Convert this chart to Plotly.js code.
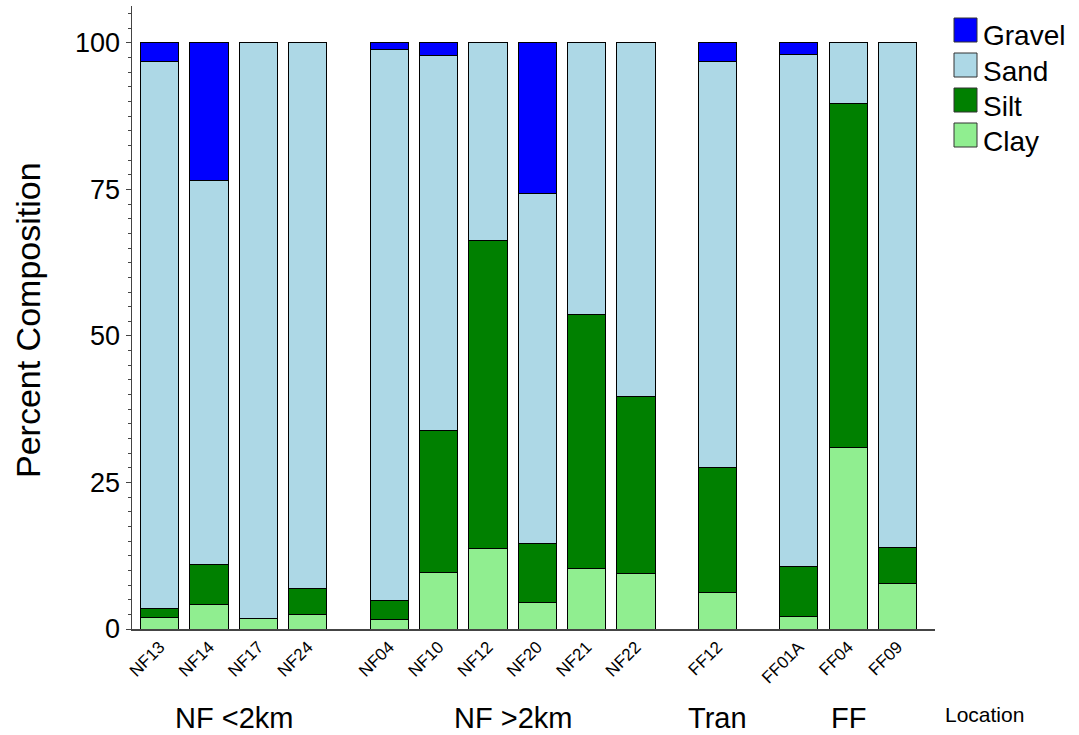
<!DOCTYPE html>
<html>
<head>
<meta charset="utf-8">
<script src="https://cdn.plot.ly/plotly-3.0.1.min.js"></script>
<style>
  html, body { margin: 0; padding: 0; background: #ffffff; }
  #chart { width: 1079px; height: 735px; }
</style>
</head>
<body>
<div id="chart"></div>
<script>
// Sampling sites, in plotting order, and the zone each one belongs to
const sites = ['NF13', 'NF14', 'NF17', 'NF24', 'NF04', 'NF10', 'NF12', 'NF20', 'NF21', 'NF22', 'FF12', 'FF01A', 'FF04', 'FF09'];
const zones = ['NF <2km', 'NF <2km', 'NF <2km', 'NF <2km',
               'NF >2km', 'NF >2km', 'NF >2km', 'NF >2km', 'NF >2km', 'NF >2km',
               'Tran', 'FF', 'FF', 'FF'];

// Grain-size fractions (% of sample)
const clay   = [1.9, 4.1, 1.8, 2.4, 1.6,  9.6, 13.7,  4.5, 10.4,  9.5,  6.2,  2.2, 30.9,  7.7];
const silt   = [1.6, 6.9, 0.0, 4.5, 3.2, 24.3, 52.6, 10.1, 43.3, 30.1, 21.3,  8.5, 58.8,  6.2];
const sand   = [93.3, 65.5, 98.2, 93.1, 94.0, 64.0, 33.7, 59.7, 46.3, 60.4, 69.3, 87.4, 10.3, 86.1];
const gravel = [3.2, 23.5, 0.0, 0.0, 1.2,  2.1,  0.0, 25.7,  0.0,  0.0,  3.2,  1.9,  0.0,  0.0];

const fractionNames = ['Gravel', 'Sand', 'Silt', 'Clay'];
const fractionColors = { Gravel: '#0000ff', Sand: '#add8e6', Silt: '#008000', Clay: '#90ee90' };
const fractionValues = { Gravel: gravel, Sand: sand, Silt: silt, Clay: clay };

// Bars sit one unit apart, with a wider gap whenever the zone changes
const ZONE_GAP = 0.65;
const xPos = [];
let zoneIndex = 0;
sites.forEach((s, i) => {
  if (i > 0 && zones[i] !== zones[i - 1]) zoneIndex++;
  xPos.push(i + zoneIndex * ZONE_GAP);
});

// Unique zones with their centre positions for the group labels
const zoneList = [];
zones.forEach((z, i) => {
  let entry = zoneList.find(e => e.name === z);
  if (!entry) { entry = { name: z, xs: [] }; zoneList.push(entry); }
  entry.xs.push(xPos[i]);
});

const FONT = 'Arial, "Liberation Sans", sans-serif';

// Stack from the bottom: Clay, Silt, Sand, Gravel
const traces = fractionNames.slice().reverse().map(name => ({
  type: 'bar',
  name: name,
  x: xPos,
  y: fractionValues[name],
  width: 0.776,
  marker: { color: fractionColors[name], line: { color: '#000000', width: 1 } },
  showlegend: false,
  hoverinfo: 'name+y'
}));

// Plot-area geometry (paper coordinates)
const W = 1079, H = 735;
const M = { l: 132, r: 144, t: 6, b: 106 };
const plotW = W - M.l - M.r, plotH = H - M.t - M.b;
const px2paperX = px => (px - M.l) / plotW;
const py2paperY = py => (H - M.b - py) / plotH;

const shapes = [];
const annotations = [];

// Legend drawn as large square swatches, top to bottom
fractionNames.forEach((name, k) => {
  const top = 18 + 35 * k;
  shapes.push({
    type: 'rect', xref: 'paper', yref: 'paper',
    x0: px2paperX(954), x1: px2paperX(977),
    y0: py2paperY(top + 24), y1: py2paperY(top),
    fillcolor: fractionColors[name],
    line: { color: '#333333', width: 1 }
  });
  annotations.push({
    xref: 'paper', yref: 'paper',
    x: px2paperX(981), y: py2paperY(top + 18),
    xanchor: 'left', yanchor: 'middle',
    text: name, showarrow: false,
    font: { family: FONT, size: 28, color: '#000000' }
  });
});

// Zone labels beneath the site names
zoneList.forEach(z => {
  const cx = z.xs.reduce((a, b) => a + b, 0) / z.xs.length;
  annotations.push({
    xref: 'x', yref: 'paper',
    x: cx, y: py2paperY(718),
    xanchor: 'center', yanchor: 'middle',
    text: z.name, showarrow: false,
    font: { family: FONT, size: 29, color: '#000000' }
  });
});

// Axis captions
annotations.push({
  xref: 'paper', yref: 'paper',
  x: px2paperX(984), y: py2paperY(714),
  xanchor: 'center', yanchor: 'middle',
  text: 'Location', showarrow: false,
  font: { family: FONT, size: 21, color: '#000000' }
});
annotations.push({
  xref: 'paper', yref: 'paper',
  x: px2paperX(28), y: py2paperY(320),
  xanchor: 'center', yanchor: 'middle', textangle: -90,
  text: 'Percent Composition', showarrow: false,
  font: { family: FONT, size: 34, color: '#000000' }
});

const layout = {
  width: W, height: H,
  margin: M,
  paper_bgcolor: '#ffffff',
  plot_bgcolor: '#ffffff',
  barmode: 'stack',
  showlegend: false,
  font: { family: FONT, color: '#000000' },
  xaxis: {
    range: [-0.563, 15.71],
    tickmode: 'array',
    tickvals: xPos,
    ticktext: sites,
    tickangle: -45,
    ticks: '',
    tickfont: { family: FONT, size: 17, color: '#000000' },
    showgrid: false, zeroline: false,
    showline: true, linecolor: '#444444', linewidth: 1.5,
    fixedrange: true
  },
  yaxis: {
    range: [0, 106.3],
    tickmode: 'array',
    tickvals: [0, 25, 50, 75, 100],
    ticks: 'outside', ticklen: 5, tickwidth: 1, tickcolor: '#444444',
    minor: { dtick: 2.5, ticks: 'outside', ticklen: 3, tickcolor: '#444444', showgrid: false },
    tickfont: { family: FONT, size: 27, color: '#000000' },
    showgrid: false, zeroline: false,
    showline: true, linecolor: '#444444', linewidth: 1.5,
    fixedrange: true
  },
  shapes: shapes,
  annotations: annotations
};

Plotly.newPlot('chart', traces, layout, { displayModeBar: false, staticPlot: true });
</script>
</body>
</html>
